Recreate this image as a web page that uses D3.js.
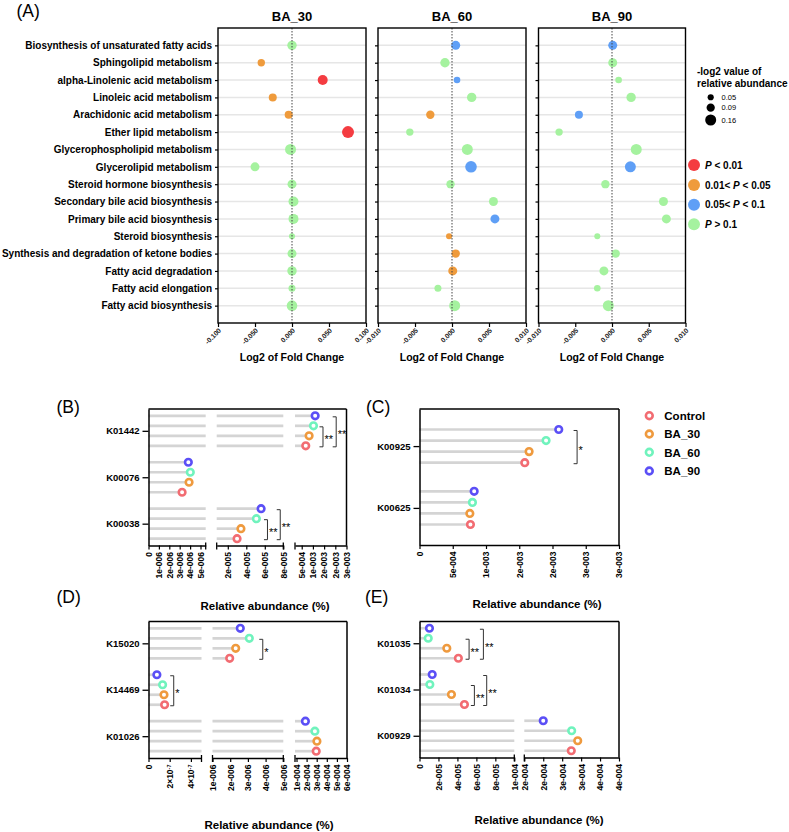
<!DOCTYPE html>
<html><head><meta charset="utf-8">
<script src="https://cdn.jsdelivr.net/npm/d3@7"></script>
<style>body{margin:0;background:#fff;} svg{display:block;}</style>
</head><body><svg id="chart" width="789" height="832"></svg>
<script>
// ---------------- Panel A data ----------------
const pathways = [
  "Biosynthesis of unsaturated fatty acids","Sphingolipid metabolism","alpha-Linolenic acid metabolism",
  "Linoleic acid metabolism","Arachidonic acid metabolism","Ether lipid metabolism",
  "Glycerophospholipid metabolism","Glycerolipid metabolism","Steroid hormone biosynthesis",
  "Secondary bile acid biosynthesis","Primary bile acid biosynthesis","Steroid biosynthesis",
  "Synthesis and degradation of ketone bodies","Fatty acid degradation","Fatty acid elongation",
  "Fatty acid biosynthesis"
];
const groupsA = ["BA_30","BA_60","BA_90"];
const fcBA30 = [0.0,-0.0415,0.0415,-0.026,-0.0045,0.0757,-0.002,-0.050,0.0,0.002,0.002,0.0,0.0,0.0,0.0,0.0];
const fcBA60 = [0.0005,-0.00095,0.00068,0.00266,-0.00293,-0.0057,0.00207,0.00257,-0.0002,0.0056,0.0058,-0.0004,0.0005,0.0001,-0.0019,0.00036];
const fcBA90 = [0.0001,0.0001,0.0009,0.0026,-0.0045,-0.0072,0.0033,0.0025,-0.0009,0.0070,0.0074,-0.002,0.0005,-0.0011,-0.002,-0.0005];
const sizeBA30 = [0.117,0.072,0.132,0.085,0.085,0.19,0.16,0.107,0.107,0.132,0.132,0.048,0.107,0.117,0.065,0.149];
const sizeBA60 = [0.107,0.117,0.058,0.117,0.093,0.072,0.16,0.178,0.093,0.107,0.107,0.048,0.093,0.107,0.065,0.16];
const sizeBA90 = [0.107,0.107,0.058,0.117,0.085,0.072,0.16,0.16,0.093,0.107,0.107,0.048,0.093,0.107,0.058,0.16];
// p-value class: 0 = P<0.01, 1 = 0.01<P<0.05, 2 = 0.05<P<0.1, 3 = P>0.1
const pBA30 = [3,1,0,1,1,0,3,3,3,3,3,3,3,3,3,3];
const pBA60 = [2,3,2,3,1,3,3,2,3,3,2,1,1,1,3,3];
const pBA90 = [2,3,3,3,2,3,3,2,3,3,3,3,3,3,3,3];
const pLevels = ["P < 0.01","0.01< P < 0.05","0.05< P < 0.1","P > 0.1"];
const sizeLegendValues = [0.05,0.09,0.16];
const sizeLegendLabels = ["0.05","0.09","0.16"];
const domainBA30 = [-0.1,0.1];
const domainBA60 = [-0.01,0.01];
const ticksBA30 = [-0.1,-0.05,0,0.05,0.1];
const tickLabelsBA30 = ["-0.100","-0.050","0.000","0.050","0.100"];
const ticksBA60 = [-0.01,-0.005,0,0.005,0.01];
const tickLabelsBA60 = ["-0.010","-0.005","0.000","0.005","0.010"];

// ---------------- Lollipop data ----------------
const lolliGroups = ["Control","BA_30","BA_60","BA_90"];
// (B)
const koB = ["K01442","K00076","K00038"];
const bControl = [6.8e-4,3.23e-6,3.0e-5];
const bBA30 = [8.3e-4,3.9e-6,3.42e-5];
const bBA60 = [1.025e-3,4.02e-6,5.09e-5];
const bBA90 = [1.10e-3,3.83e-6,5.6e-5];
const bSegDomains = [[0,5.5e-6],[8e-6,8e-5],[2e-4,2.5e-3]];
const bTicks = [[0,1e-6,2e-6,3e-6,4e-6,5e-6],[2e-5,4e-5,6e-5,8e-5],[5e-4,1e-3,1.5e-3,2e-3,2.5e-3]];
const bTickLabels = [["0","1e-006","2e-006","3e-006","4e-006","5e-006"],["2e-005","4e-005","6e-005","8e-005"],["5e-004","1e-003","2e-003","2e-003","3e-003"]];
const bBrackets = [
  {ko:"K01442",from:"BA_60",to:"Control",at:1.45e-3,label:"**"},
  {ko:"K01442",from:"BA_90",to:"Control",at:2.04e-3,label:"**"},
  {ko:"K00038",from:"BA_60",to:"Control",at:6.29e-5,label:"**"},
  {ko:"K00038",from:"BA_90",to:"Control",at:7.67e-5,label:"**"}
];
// (C)
const koC = ["K00925","K00625"];
const cControl = [1.583e-3,7.66e-4];
const cBA30 = [1.648e-3,7.57e-4];
const cBA60 = [1.903e-3,7.96e-4];
const cBA90 = [2.094e-3,8.22e-4];
const cSegDomains = [[0,3e-3]];
const cTicks = [[0,5e-4,1e-3,1.5e-3,2e-3,2.5e-3,3e-3]];
const cTickLabels = [["0","5e-004","1e-003","2e-003","2e-003","3e-003","3e-003"]];
const cBrackets = [{ko:"K00925",from:"BA_90",to:"Control",at:2.37e-3,label:"*"}];
// (D)
const koD = ["K15020","K14469","K01026"];
const dControl = [1.97e-6,1.52e-7,2.95e-4];
const dBA30 = [2.31e-6,1.46e-7,3.02e-4];
const dBA60 = [3.08e-6,1.33e-7,2.82e-4];
const dBA90 = [2.57e-6,0.79e-7,1.88e-4];
const dSegDomains = [[0,5e-7],[1e-6,5e-6],[0.85e-4,6e-4]];
const dTicks = [[0,2e-7,4e-7],[1e-6,2e-6,3e-6,4e-6,5e-6],[1e-4,2e-4,3e-4,4e-4,5e-4,6e-4]];
const dTickLabels = [["0","2×10^-7","4×10^-7"],["1e-006","2e-006","3e-006","4e-006","5e-006"],["1e-004","2e-004","3e-004","4e-004","5e-004","6e-004"]];
const dBrackets = [
  {ko:"K15020",from:"BA_60",to:"Control",at:3.84e-6,label:"*"},
  {ko:"K14469",from:"BA_90",to:"Control",at:2.38e-7,label:"*"}
];
// (E)
const koE = ["K01035","K01034","K00929"];
const eControl = [4.1e-5,4.74e-5,2.74e-4];
const eBA30 = [2.88e-5,3.37e-5,2.91e-4];
const eBA60 = [0.92e-5,1.09e-5,2.75e-4];
const eBA90 = [1.05e-5,1.34e-5,2.0e-4];
const eSegDomains = [[0,1e-4],[1.5e-4,4e-4]];
const eTicks = [[0,2e-5,4e-5,6e-5,8e-5,1e-4],[1.5e-4,2e-4,2.5e-4,3e-4,3.5e-4,4e-4]];
const eTickLabels = [["0","2e-005","4e-005","6e-005","8e-005","1e-004"],["2e-004","2e-004","3e-004","3e-004","4e-004","4e-004"]];
const eBrackets = [
  {ko:"K01035",from:"BA_60",to:"Control",at:5.23e-5,label:"**"},
  {ko:"K01035",from:"BA_90",to:"Control",at:6.74e-5,label:"**"},
  {ko:"K01034",from:"BA_60",to:"Control",at:5.79e-5,label:"**"},
  {ko:"K01034",from:"BA_90",to:"Control",at:7.09e-5,label:"**"}
];

// ---------------- drawing ----------------
const F = '"Liberation Sans", Arial, Helvetica, sans-serif';
const svg = d3.select("#chart").attr("font-family", F);
const pColors = ["#f43c41","#ef9b3c","#5f9ff6","#a5f29f"];
const lolliColors = ["#f26c72","#ef9a3e","#70f3bd","#5b4ff6"];

function txt(g, x, y, s, size, opts = {}) {
  return g.append("text").attr("x", x).attr("y", y).text(s)
    .attr("font-size", size).attr("font-weight", opts.weight || "bold")
    .attr("text-anchor", opts.anchor || "start").attr("fill", "#000");
}
function pLabel(g, x, y, s, size) {
  const t = g.append("text").attr("x", x).attr("y", y).attr("font-size", size).attr("font-weight", "bold");
  const parts = s.split("P");
  t.append("tspan").text(parts[0]);
  t.append("tspan").attr("font-style", "italic").text("P");
  t.append("tspan").text(parts[1]);
}

// Panel A
const A_TOP = 28, A_BOT = 323;
const layoutA = [{x0: 218, x1: 366}, {x0: 378, x1: 526}, {x0: 538.5, x1: 685.5}];
const panelsA = [
  {name: groupsA[0], fc: fcBA30, size: sizeBA30, p: pBA30, domain: domainBA30, ticks: ticksBA30, labels: tickLabelsBA30},
  {name: groupsA[1], fc: fcBA60, size: sizeBA60, p: pBA60, domain: domainBA60, ticks: ticksBA60, labels: tickLabelsBA60},
  {name: groupsA[2], fc: fcBA90, size: sizeBA90, p: pBA90, domain: domainBA60, ticks: ticksBA60, labels: tickLabelsBA60}
];
const yA = d3.scalePoint().domain(pathways).range([A_TOP, A_BOT]).padding(1);
const rA = d3.scaleSqrt().domain([0, 0.16]).range([0, 5.5]);
const colorA = d3.scaleOrdinal().domain(pLevels).range(pColors);

txt(svg, 16.5, 16.5, "(A)", 17.5, {weight: "normal"});

panelsA.forEach((p, k) => {
  const L = layoutA[k];
  const x = d3.scaleLinear().domain(p.domain).range([L.x0, L.x1]);
  const g = svg.append("g");
  g.selectAll("line.grid").data(pathways).join("line").attr("class", "grid")
    .attr("x1", L.x0).attr("x2", L.x1).attr("y1", d => yA(d)).attr("y2", d => yA(d))
    .attr("stroke", "#e6e6e6").attr("stroke-width", 1.5);
  const pts = pathways.map((d, i) => ({path: d, fc: p.fc[i], size: p.size[i], pc: p.p[i]}));
  g.selectAll("circle").data(pts).join("circle")
    .attr("cx", d => x(d.fc)).attr("cy", d => yA(d.path)).attr("r", d => rA(d.size))
    .attr("fill", d => colorA(pLevels[d.pc]));
  g.append("line").attr("x1", x(0)).attr("x2", x(0)).attr("y1", A_TOP).attr("y2", A_BOT)
    .attr("stroke", "#444").attr("stroke-width", 1).attr("stroke-dasharray", "1.5,1.5");
  g.append("rect").attr("x", L.x0).attr("y", A_TOP).attr("width", L.x1 - L.x0).attr("height", A_BOT - A_TOP)
    .attr("fill", "none").attr("stroke", "#000").attr("stroke-width", 1.4);
  const ya = g.append("g").attr("transform", `translate(${L.x0},0)`)
    .call(d3.axisLeft(yA).tickSize(3).tickPadding(3).tickSizeOuter(0).tickFormat(k === 0 ? (d => d) : (() => "")));
  ya.select(".domain").remove();
  ya.selectAll("line").attr("stroke", "#000").attr("stroke-width", 1.2);
  ya.selectAll("text").attr("font-size", 10).attr("font-weight", "bold").attr("font-family", F).attr("fill", "#000");
  const xa = g.append("g").attr("transform", `translate(0,${A_BOT})`)
    .call(d3.axisBottom(x).tickValues(p.ticks).tickFormat((d, i) => p.labels[i]).tickSize(4).tickSizeOuter(0));
  xa.select(".domain").remove();
  xa.selectAll("line").attr("stroke", "#000").attr("stroke-width", 1.2);
  xa.selectAll("text").attr("x", 0).attr("y", 0).attr("dy", 0)
    .attr("transform", "translate(3,8) rotate(-45)").attr("text-anchor", "end")
    .attr("font-size", 6.8).attr("font-weight", "bold").attr("font-family", F).attr("fill", "#222");
  txt(g, x(0), 21, p.name, 13, {anchor: "middle"});
  txt(g, x(0), 361, "Log2 of Fold Change", 10.5, {anchor: "middle"});
});

// Legend A
const legA = svg.append("g");
txt(legA, 697, 74.5, "-log2 value of", 10);
txt(legA, 697, 86.5, "relative abundance", 10);
const sizeLegY = [97.3, 107.7, 120];
sizeLegendValues.forEach((v, i) => {
  legA.append("circle").attr("cx", 710.7).attr("cy", sizeLegY[i]).attr("r", rA(v)).attr("fill", "#000");
  txt(legA, 721.5, sizeLegY[i] + 2.7, sizeLegendLabels[i], 7.5, {weight: "normal"});
});
const colLegY = [165, 185, 204.7, 224.3];
pLevels.forEach((lab, i) => {
  legA.append("circle").attr("cx", 694).attr("cy", colLegY[i]).attr("r", 6).attr("fill", colorA(lab));
  pLabel(legA, 705, colLegY[i] + 3.6, lab, 10);
});

// Lollipop panels
function lollipop(cfg) {
  const g = svg.append("g");
  const {l, r, t, b} = cfg.box;
  const yC = d3.scalePoint().domain(cfg.kos).range([t, b]).padding(cfg.pad);
  const yG = d3.scalePoint().domain(["BA_90", "BA_60", "BA_30", "Control"]).range([-cfg.spread, cfg.spread]);
  const scales = cfg.segDomains.map((dom, i) => d3.scaleLinear().domain(dom).range(cfg.segRanges[i]));
  const xOf = v => { for (const s of scales) { if (v <= s.domain()[1]) return s(v); } return scales[scales.length - 1](v); };
  const rows = [];
  cfg.kos.forEach((ko, ci) => lolliGroups.forEach((gn, gi) =>
    rows.push({ko, gn, gi, v: cfg.values[gi][ci], y: yC(ko) + yG(gn)})));
  rows.forEach(d => {
    scales.forEach(s => {
      const [d0, d1] = s.domain();
      if (d.v <= d0) return;
      const xEnd = d.v >= d1 ? s.range()[1] : s(d.v);
      g.append("line").attr("x1", s.range()[0]).attr("x2", xEnd).attr("y1", d.y).attr("y2", d.y)
        .attr("stroke", "#d4d4d4").attr("stroke-width", 2.7);
    });
  });
  g.selectAll("circle.pt").data(rows).join("circle").attr("class", "pt")
    .attr("cx", d => xOf(d.v)).attr("cy", d => d.y).attr("r", 3.3)
    .attr("fill", "#fff").attr("stroke", d => lolliColors[d.gi]).attr("stroke-width", 2.6);
  // frame
  g.append("line").attr("x1", l).attr("x2", r).attr("y1", t).attr("y2", t).attr("stroke", "#000").attr("stroke-width", 1.5);
  g.append("line").attr("x1", r).attr("x2", r).attr("y1", t).attr("y2", b).attr("stroke", "#000").attr("stroke-width", 1.5);
  // y axis
  const ya = g.append("g").attr("transform", `translate(${l},0)`)
    .call(d3.axisLeft(yC).tickSize(6).tickPadding(3).tickSizeOuter(0));
  ya.select(".domain").attr("stroke", "#000").attr("stroke-width", 1.5);
  ya.selectAll(".tick line").attr("stroke", "#000").attr("stroke-width", 1.3);
  ya.selectAll("text").attr("font-size", 9.5).attr("font-weight", "bold").attr("font-family", F).attr("fill", "#000");
  // x axes (segmented)
  scales.forEach((s, i) => {
    const labs = cfg.tickLabels[i];
    const xa = g.append("g").attr("transform", `translate(0,${b})`)
      .call(d3.axisBottom(s).tickValues(cfg.tickVals[i]).tickFormat((d, j) => labs[j]).tickSize(4).tickSizeOuter(0));
    xa.select(".domain").attr("stroke", "#000").attr("stroke-width", 1.5);
    xa.selectAll(".tick line").attr("stroke", "#000").attr("stroke-width", 1.2);
    xa.selectAll("text").attr("x", -6.5).attr("y", 0).attr("dy", "0.34em")
      .attr("transform", "rotate(-90)").attr("text-anchor", "end")
      .attr("font-size", 8.5).attr("font-weight", "bold").attr("font-family", F).attr("fill", "#000")
      .each(function(d, j) {
        const lab = labs[j];
        if (lab.includes("^")) {
          const [base, exp] = lab.split("^");
          const el = d3.select(this).text(base);
          el.append("tspan").attr("dy", "-0.45em").attr("font-size", 5.5).text(exp);
        }
      });
    const [r0, r1] = s.range();
    if (i > 0) g.append("line").attr("x1", r0).attr("x2", r0).attr("y1", b - 3).attr("y2", b + 4).attr("stroke", "#000").attr("stroke-width", 1.3);
    if (i < scales.length - 1) g.append("line").attr("x1", r1).attr("x2", r1).attr("y1", b - 3).attr("y2", b + 4).attr("stroke", "#000").attr("stroke-width", 1.3);
  });
  // brackets
  cfg.brackets.forEach(br => {
    const x = xOf(br.at);
    const y1 = yC(br.ko) + yG(br.from) + 1, y2 = yC(br.ko) + yG(br.to) + 1;
    g.append("path").attr("d", `M${x - 3.5},${y1}H${x}V${y2}H${x - 3.5}`)
      .attr("fill", "none").attr("stroke", "#333").attr("stroke-width", 1);
    txt(g, x + 1.5, (y1 + y2) / 2 + 6.5, br.label, 11, {weight: "normal"});
  });
  txt(g, cfg.titleX, cfg.titleY, "Relative abundance (%)", 11.5, {anchor: "middle"});
  txt(g, cfg.letterX, cfg.letterY, cfg.letter, 17.5, {weight: "normal"});
}

lollipop({kos: koB, values: [bControl, bBA30, bBA60, bBA90], box: {l: 148.5, r: 346.5, t: 409, b: 545.5},
  pad: 0.47, spread: 15, segDomains: bSegDomains, segRanges: [[148.5, 205.7], [216.7, 283.3], [295, 346.5]],
  tickVals: bTicks, tickLabels: bTickLabels, brackets: bBrackets, titleX: 265, titleY: 610, letter: "(B)", letterX: 56.5, letterY: 413});
lollipop({kos: koC, values: [cControl, cBA30, cBA60, cBA90], box: {l: 419.5, r: 619, t: 409, b: 545},
  pad: 0.6, spread: 16.6, segDomains: cSegDomains, segRanges: [[419.5, 619]],
  tickVals: cTicks, tickLabels: cTickLabels, brackets: cBrackets, titleX: 537, titleY: 608, letter: "(C)", letterX: 366, letterY: 413});
lollipop({kos: koD, values: [dControl, dBA30, dBA60, dBA90], box: {l: 148.5, r: 347, t: 621.5, b: 758},
  pad: 0.47, spread: 15, segDomains: dSegDomains, segRanges: [[148.5, 201.5], [212.5, 283.3], [295, 347]],
  tickVals: dTicks, tickLabels: dTickLabels, brackets: dBrackets, titleX: 269, titleY: 829, letter: "(D)", letterX: 56.5, letterY: 603});
lollipop({kos: koE, values: [eControl, eBA30, eBA60, eBA90], box: {l: 419.5, r: 619, t: 621.5, b: 757.5},
  pad: 0.47, spread: 15, segDomains: eSegDomains, segRanges: [[419.5, 514.3], [524.3, 619]],
  tickVals: eTicks, tickLabels: eTickLabels, brackets: eBrackets, titleX: 539, titleY: 824, letter: "(E)", letterX: 365, letterY: 603});

// Legend for lollipop panels
const legB = svg.append("g");
const legBY = [415.7, 434, 452.3, 471];
lolliGroups.forEach((gn, i) => {
  legB.append("circle").attr("cx", 649.3).attr("cy", legBY[i]).attr("r", 3.4)
    .attr("fill", "#fff").attr("stroke", lolliColors[i]).attr("stroke-width", 2.6);
  txt(legB, 664.3, legBY[i] + 4.2, gn, 11.5);
});
</script></body></html>
